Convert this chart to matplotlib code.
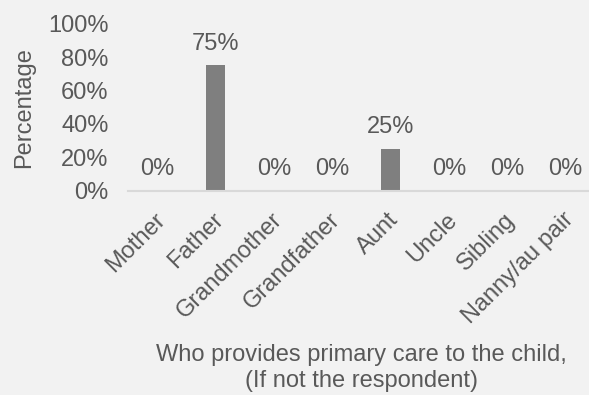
import matplotlib.pyplot as plt
import matplotlib.transforms as mtransforms
from matplotlib.ticker import PercentFormatter

carers = ['Mother', 'Father', 'Grandmother', 'Grandfather', 'Aunt', 'Uncle',
          'Sibling', 'Nanny/au pair']
share = [0.00, 0.75, 0.00, 0.00, 0.25, 0.00, 0.00, 0.00]
y_ticks = [0.0, 0.2, 0.4, 0.6, 0.8, 1.0]

plt.rcParams['font.family'] = ['Liberation Sans', 'DejaVu Sans']
txt = '#595959'
bg = '#f2f2f2'
fs = 17

fig = plt.figure(figsize=(5.89, 3.95), dpi=100, facecolor=bg)
ax = fig.add_axes([0.2173, 0.5172, 0.7924, 0.4228], facecolor=bg)

x = range(len(carers))
ax.bar(x, share, width=0.31, color='#7f7f7f', zorder=2)

# value labels sit a fixed distance above each bar
for xi, v in zip(x, share):
    ax.annotate(f'{v:.0%}', (xi, v), xytext=(0, 15.5), textcoords='offset points',
                ha='center', va='center', fontsize=fs, color=txt)

ax.set_xlim(-0.5, len(carers) - 0.5)
ax.set_ylim(0, 1)
ax.set_yticks(y_ticks)
ax.yaxis.set_major_formatter(PercentFormatter(1.0, decimals=0))
ax.tick_params(axis='y', length=0, pad=14, labelsize=fs, labelcolor=txt)
ax.tick_params(axis='x', length=0, pad=13, labelsize=fs, labelcolor=txt)
ax.set_xticks(list(x))
ax.set_xticklabels(carers, rotation=45, ha='right', rotation_mode='anchor')
# nudge the slanted labels a touch to the left
shift = mtransforms.ScaledTranslation(-0.03, 0, fig.dpi_scale_trans)
for lbl in ax.get_xticklabels():
    lbl.set_transform(lbl.get_transform() + shift)

for s in ['top', 'right', 'left']:
    ax.spines[s].set_visible(False)
ax.spines['bottom'].set_color('#d9d9d9')
ax.spines['bottom'].set_linewidth(1.5)

ax.set_ylabel('Percentage', fontsize=fs, color=txt)
ax.yaxis.set_label_coords(-0.20, 0.5, transform=ax.transAxes)
fig.text(0.6135, 0.068, 'Who provides primary care to the child,\n(If not the respondent)',
         ha='center', va='center', fontsize=fs, color=txt, linespacing=1.2)

fig.savefig('out.png', dpi=100, facecolor=bg)
